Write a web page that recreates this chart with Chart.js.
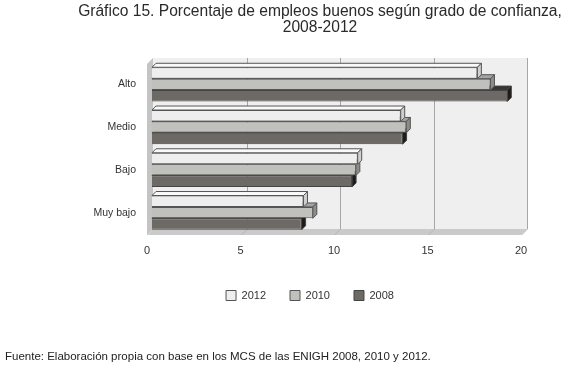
<!DOCTYPE html>
<html>
<head>
<meta charset="utf-8">
<script src="https://cdn.jsdelivr.net/npm/chart.js@4.4.1/dist/chart.umd.min.js"></script>
<style>
  body { margin: 0; background: #fff; }
  #wrap { position: relative; width: 568px; height: 369px; font-family: 'Liberation Sans', Arial, sans-serif; color: #222; }
  #chart { position: absolute; left: 0; top: 0; }
  #title { position: absolute; left: 72px; right: 0; top: 3px; text-align: center; font-size: 15.6px; line-height: 16px; white-space: nowrap; color: #2a2a2a; }
  #source { position: absolute; left: 5px; top: 350px; font-size: 11.5px; color: #222; white-space: nowrap; }
</style>
</head>
<body>
<div id="wrap">
  <canvas id="chart" width="568" height="369"></canvas>
  <div id="title">Gráfico 15. Porcentaje de empleos buenos según grado de confianza,<br>2008-2012</div>
  <div id="source">Fuente: Elaboración propia con base en los MCS de las ENIGH 2008, 2010 y 2012.</div>
</div>
<script>
// data
const categories = ['Alto', 'Medio', 'Bajo', 'Muy bajo'];
const years = ['2012', '2010', '2008'];
const values2012 = [17.4, 13.3, 11.0, 8.1];
const values2010 = [18.1, 13.6, 10.9, 8.6];
const values2008 = [19.0, 13.4, 10.7, 8.0];
const xTicks = [0, 5, 10, 15, 20];

// look of each series: front face, top face, right face
const faces = [
  { front: '#eeeeee', top: '#fafafa', side: '#cfcfcf', border: '#555555' },
  { front: '#c0c0bc', top: '#a4a4a0', side: '#8c8c88', border: '#555555' },
  { front: '#6d6a66', top: '#363432', side: '#1c1c1c', border: '#444444' }
];
const depth = 4;

// back wall, side wall and floor (drawn from the x scale)
const wall3d = {
  id: 'wall3d',
  beforeDatasetsDraw(chart) {
    const { ctx, chartArea: a, scales: { x } } = chart;
    const L = a.left, R = a.right, T = a.top, B = a.bottom;
    ctx.save();
    ctx.fillStyle = '#efefef';
    ctx.fillRect(L + 1, T - 5, R - L, B - T);
    // left side
    ctx.fillStyle = '#c4c4c4';
    ctx.beginPath();
    ctx.moveTo(L + 1, T - 5); ctx.lineTo(L + 1, B - 5); ctx.lineTo(L - 5, B + 1); ctx.lineTo(L - 5, T + 1);
    ctx.closePath(); ctx.fill();
    // floor
    ctx.fillStyle = '#cacaca';
    ctx.beginPath();
    ctx.moveTo(L + 1, B - 5); ctx.lineTo(R + 1, B - 5); ctx.lineTo(R - 5, B + 1); ctx.lineTo(L - 5, B + 1);
    ctx.closePath(); ctx.fill();
    // grid lines
    ctx.lineWidth = 1;
    xTicks.forEach(v => {
      if (v === 0) return;
      const px = Math.round(x.getPixelForValue(v)) + 1.5;
      ctx.strokeStyle = '#a6a6a6';
      ctx.beginPath(); ctx.moveTo(px, T - 5); ctx.lineTo(px, B - 5); ctx.stroke();
      ctx.strokeStyle = '#b4b4b4';
      ctx.beginPath(); ctx.moveTo(px, B - 5); ctx.lineTo(px - 6, B + 1); ctx.stroke();
    });
    ctx.restore();
  },
  // top and right faces of each bar
  afterDatasetDraw(chart, args) {
    const { ctx } = chart;
    const f = faces[args.index];
    ctx.save();
    ctx.lineWidth = 1;
    ctx.strokeStyle = f.border;
    args.meta.data.forEach(bar => {
      const { x, y, base, height } = bar.getProps(['x', 'y', 'base', 'height'], true);
      const top = y - height / 2, bottom = y + height / 2;
      ctx.fillStyle = f.top;
      ctx.beginPath();
      ctx.moveTo(base, top); ctx.lineTo(base + depth, top - depth);
      ctx.lineTo(x + depth, top - depth); ctx.lineTo(x, top);
      ctx.closePath(); ctx.fill(); ctx.stroke();
      ctx.fillStyle = f.side;
      ctx.beginPath();
      ctx.moveTo(x, top); ctx.lineTo(x + depth, top - depth);
      ctx.lineTo(x + depth, bottom - depth); ctx.lineTo(x, bottom);
      ctx.closePath(); ctx.fill(); ctx.stroke();
    });
    ctx.restore();
  }
};

const seriesValues = [values2012, values2010, values2008];

new Chart(document.getElementById('chart'), {
  type: 'bar',
  data: {
    labels: categories,
    datasets: years.map((yr, i) => ({
      label: yr,
      data: seriesValues[i],
      backgroundColor: faces[i].front,
      borderColor: faces[i].border,
      borderWidth: 1,
      categoryPercentage: 0.8,
      barPercentage: 1.0
    }))
  },
  options: {
    indexAxis: 'y',
    responsive: false,
    animation: false,
    layout: { padding: { left: 94, right: 42, top: 63, bottom: 58 } },
    scales: {
      x: {
        min: 0, max: 20,
        grid: { display: false, drawTicks: false },
        border: { display: false },
        ticks: { stepSize: 5, padding: 10, labelOffset: -5, color: '#333', font: { family: 'Liberation Sans', size: 11 } },
        afterFit(scale) { scale.height = 32; }
      },
      y: {
        grid: { display: false, drawTicks: false },
        border: { display: false },
        ticks: { padding: 16, color: '#333', font: { family: 'Liberation Sans', size: 10.5 } },
        afterFit(scale) { scale.width = 58; }
      }
    },
    plugins: {
      legend: {
        position: 'bottom',
        labels: { boxWidth: 10, boxHeight: 10, padding: 24, color: '#333', font: { family: 'Liberation Sans', size: 11 } }
      },
      title: { display: false },
      tooltip: { enabled: false }
    }
  },
  plugins: [wall3d]
});
</script>
</body>
</html>
